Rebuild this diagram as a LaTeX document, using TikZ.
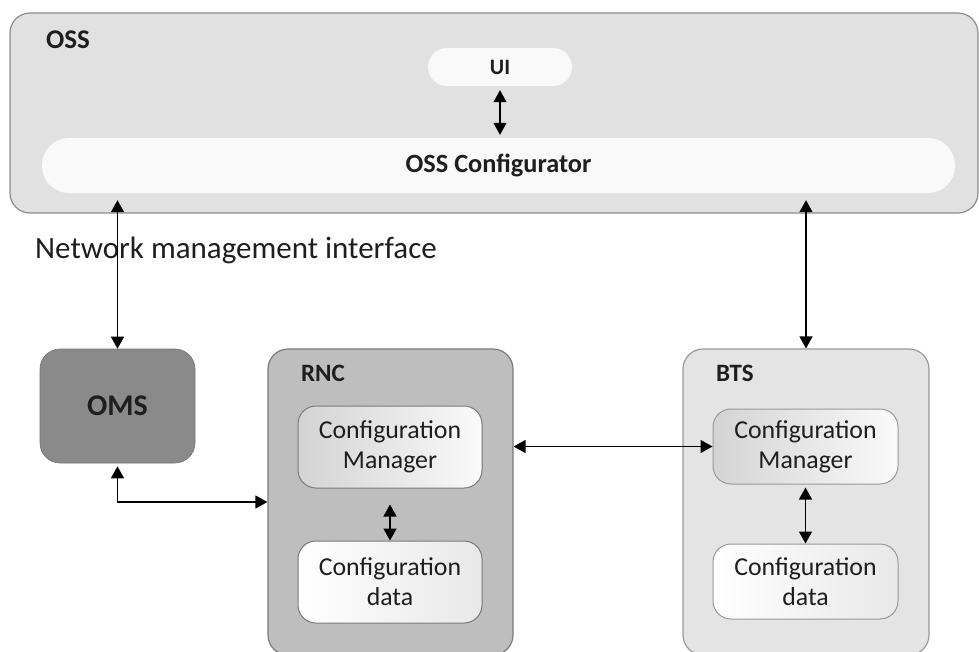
\documentclass[tikz,border=0pt]{standalone}
\usepackage{fontspec}
\setmainfont{Carlito}
\usetikzlibrary{arrows.meta}
\definecolor{ossfill}{HTML}{E1E1E1}
\definecolor{ossline}{HTML}{8C8C8C}
\definecolor{rncfill}{HTML}{BEBEBE}
\definecolor{rncline}{HTML}{7A7A7A}
\definecolor{btsfill}{HTML}{E4E4E4}
\definecolor{btsline}{HTML}{999999}
\definecolor{omsfill}{HTML}{8A8A8A}
\definecolor{pillfill}{HTML}{F9F9F9}
\definecolor{ink}{HTML}{1E1E1E}
\tikzset{
  frame/.style={draw, line width=1.2pt, rounded corners=20pt, inner sep=0pt},
  pill/.style={fill=pillfill, rounded corners=#1, inner sep=0pt},
  mgrbox/.style={draw=btsline, line width=1pt, rounded corners=18pt,
    minimum width=184pt, align=center, inner sep=0pt, text=ink,
    font=\fontsize{25.8}{30}\selectfont},
  cmshade/.style={left color=black!17, right color=black!2},
  cdshade/.style={left color=white, right color=black!9},
  boldlabel/.style={font=\bfseries\fontsize{#1}{#1}\selectfont, inner sep=0pt, text=ink},
  link/.style={line width=1.4pt, {Triangle[length=12pt,width=13pt]}-{Triangle[length=12pt,width=13pt]}}
}
\begin{document}
\begin{tikzpicture}[x=1pt, y=-1pt]
\useasboundingbox (0,0) rectangle (979,651);
\clip (0,0) rectangle (979,651);

% OSS frame with the UI and the configurator
\node[frame, draw=ossline, fill=ossfill, minimum width=968pt, minimum height=200pt] (oss) at (494,113) {};
\node[boldlabel=27, anchor=west] (osslbl) at (46,40) {OSS};
\node[pill=19pt, minimum width=144pt, minimum height=38pt] (ui) at (500,67) {};
\node[boldlabel=22] (uilbl) at (ui.center) {UI};
\node[pill=27pt, minimum width=913pt, minimum height=55pt] (conf) at (498.5,165.5) {};
\node[boldlabel=26.3] (conflbl) at (conf.center) {OSS Configurator};

% interface label
\node[anchor=base west, inner sep=0pt, text=ink, font=\fontsize{31}{31}\selectfont] (nmi) at (35,258) {Network management interface};

% OMS
\node[frame, draw=omsfill!85!black, line width=0.6pt, fill=omsfill, minimum width=155pt, minimum height=114pt] (oms) at (117.5,406) {};
\node[boldlabel=30] (omslbl) at (oms.center) {OMS};

% RNC
\node[frame, draw=rncline, fill=rncfill, minimum width=245pt, minimum height=306pt] (rnc) at (390.5,502) {};
\node[boldlabel=25] (rnclbl) at (323,373) {RNC};
\node[mgrbox, draw=rncline, cmshade, minimum height=82pt] (rnccm) at (390,447) {Configuration\\Manager};
\node[mgrbox, draw=rncline, cdshade, minimum height=82pt] (rnccd) at (390,582) {Configuration\\data};

% BTS
\node[frame, draw=btsline, fill=btsfill, minimum width=246pt, minimum height=306pt] (bts) at (806,502) {};
\node[boldlabel=25] (btslbl) at (735,373) {BTS};
\node[mgrbox, cmshade, minimum width=185pt, minimum height=75pt] (btscm) at (805.5,446.5) {Configuration\\Manager};
\node[mgrbox, cdshade, minimum width=185pt, minimum height=75pt] (btscd) at (805.5,581.5) {Configuration\\data};

% connectors
\draw[link] ([yshift=-4pt]ui.south) -- ([yshift=3pt]conf.north -| ui.south);
\draw[link] ([yshift=-7pt]conf.south -| oms.north) -- (oms.north);
\draw[link] ([yshift=-7pt]conf.south -| bts.north) -- (bts.north);
\draw[link] ([yshift=-3pt]oms.south) |- (rnc.west);
\draw[link] (rnc.east |- btscm.west) -- (btscm.west);
\draw[link] ([yshift=-16pt]rnccm.south) -- (rnccd.north);
\draw[link] ([yshift=-3pt]btscm.south) -- (btscd.north);
\end{tikzpicture}
\end{document}
